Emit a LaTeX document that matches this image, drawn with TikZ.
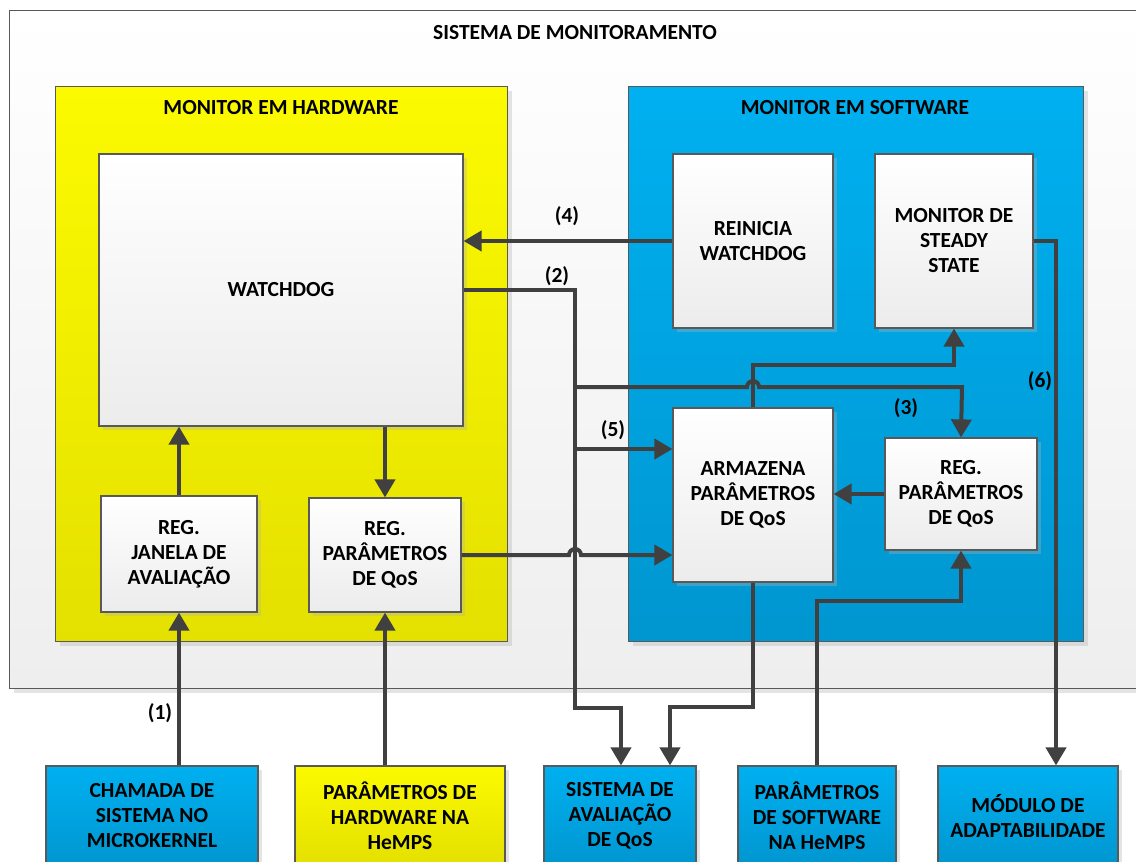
\documentclass[tikz,border=0pt]{standalone}
\usepackage{fontspec}
\setmainfont{Carlito}
\usetikzlibrary{arrows.meta,calc}
\definecolor{edge}{RGB}{89,89,89}
\definecolor{wire}{RGB}{64,64,64}
\definecolor{yelTop}{RGB}{252,250,0}
\definecolor{yelBot}{RGB}{228,224,0}
\definecolor{bluTop}{RGB}{0,176,240}
\definecolor{bluBot}{RGB}{0,150,208}
\definecolor{pale}{RGB}{236,236,236}
\tikzset{
  every node/.style={font=\fontsize{21.5}{25}\selectfont\bfseries, align=center},
  shadowed/.style={preaction={fill=gray!60, fill opacity=0.35, transform canvas={xshift=4pt,yshift=-4pt}}},
  panel/.style={draw=edge, line width=1.2pt, shadowed},
  whitebox/.style={panel, top color=white, bottom color=pale, inner sep=0pt},
  yellowbox/.style={panel, top color=yelTop, bottom color=yelBot, inner sep=0pt},
  bluebox/.style={panel, top color=bluTop, bottom color=bluBot, inner sep=0pt},
  arr/.style={draw=wire, line width=4pt, -{Triangle[length=18pt,width=20pt]}},
  tag/.style={inner sep=1pt}
}
\begin{document}
\begin{tikzpicture}[x=1pt,y=-1pt]
\useasboundingbox (0,0) rectangle (1136,862);
\clip (0,0) rectangle (1136,862);

% outer container
\node[panel, top color=white, bottom color={rgb,255:red,238;green,238;blue,238}, minimum width=1160pt, minimum height=678pt, anchor=north west] (outer) at (9,10) {};
\node (title) at (575,33) {SISTEMA DE MONITORAMENTO};

% hardware and software monitors
\node[yellowbox, minimum width=452pt, minimum height=555pt, anchor=north west] (hw) at (55,86) {};
\node (hwtitle) at (281,108) {MONITOR EM HARDWARE};
\node[bluebox, minimum width=455pt, minimum height=555pt, anchor=north west] (sw) at (628,86) {};
\node (swtitle) at (855,108) {MONITOR EM SOFTWARE};

% blocks inside the hardware monitor
\node[whitebox, minimum width=364pt, minimum height=272pt] (wd) at (281,290) {WATCHDOG};
\node[whitebox, minimum width=156pt, minimum height=116pt] (rja) at (179,554) {REG.\\JANELA DE\\AVALIAÇÃO};
\node[whitebox, minimum width=152pt, minimum height=114pt] (rqh) at (385,555) {REG.\\PARÂMETROS\\DE QoS};

% blocks inside the software monitor
\node[whitebox, minimum width=160pt, minimum height=174pt] (rein) at (753,241) {REINICIA\\WATCHDOG};
\node[whitebox, minimum width=158pt, minimum height=174pt] (mss) at (954,241) {MONITOR DE\\STEADY\\STATE};
\node[whitebox, minimum width=160pt, minimum height=174pt] (arm) at (753,495) {ARMAZENA\\PARÂMETROS\\DE QoS};
\node[whitebox, minimum width=152pt, minimum height=112pt] (rqs) at (961,494) {REG.\\PARÂMETROS\\DE QoS};

% external blocks
\node[bluebox, minimum width=212pt, minimum height=100pt] (b1) at (152,816) {CHAMADA DE\\SISTEMA NO\\MICROKERNEL};
\node[yellowbox, minimum width=210pt, minimum height=100pt] (b2) at (400,816) {PARÂMETROS DE\\HARDWARE NA\\HeMPS};
\node[bluebox, minimum width=152pt, minimum height=100pt] (b3) at (620,816) {SISTEMA DE\\AVALIAÇÃO\\DE QoS};
\node[bluebox, minimum width=158pt, minimum height=100pt] (b4) at (817,816) {PARÂMETROS\\DE SOFTWARE\\NA HeMPS};
\node[bluebox, minimum width=180pt, minimum height=100pt] (b5) at (1028,816) {MÓDULO DE\\ADAPTABILIDADE};

% junction points on the watchdog bus
\coordinate (bus) at (575,290);
\coordinate (j3) at (575,387);
\coordinate (j5) at (575,449);

% connectors
\draw[arr] (rja.south |- b1.north) -- (rja.south);
\draw[arr] (rja.north) -- (rja.north |- wd.south);
\draw[arr] (rqh.north |- wd.south) -- (rqh.north);
\draw[arr] (rqh.south |- b2.north) -- (rqh.south);
\draw[arr] (rein.west) -- (rein.west -| wd.east);
\draw[arr] (wd.east) -- (bus) -- (575,708) -| ($(b3.north)+(1,0)$);
\draw[arr] (j3) -- (747,387) arc[start angle=180, end angle=360, radius=6] -- (962,387) -- (rqs.north);
\draw[arr] (j5) -- (j5 -| arm.west);
\draw[arr] (rqh.east) -- (569,555) arc[start angle=180, end angle=360, radius=6] -- (rqh.east -| arm.west);
\draw[arr] (arm.north) |- ($(mss.south)+(0,36)$) -- (mss.south);
\draw[arr] (arm.south) |- ($(b3.north)+(50,-58)$) -- ($(b3.north)+(50,0)$);
\draw[arr] (b4.north) |- ($(rqs.south)+(0,50)$) -- (rqs.south);
\draw[arr] (rqs.west) -- (rqs.west -| arm.east);
\draw[arr] (mss.east) -| ($(b5.north)+(28,0)$);

% connector labels
\node[tag] (l1) at (160,713) {(1)};
\node[tag] (l2) at (557,276) {(2)};
\node[tag] (l3) at (906,408) {(3)};
\node[tag] (l4) at (567,216) {(4)};
\node[tag] (l5) at (613,430) {(5)};
\node[tag] (l6) at (1040,381) {(6)};
\end{tikzpicture}
\end{document}
